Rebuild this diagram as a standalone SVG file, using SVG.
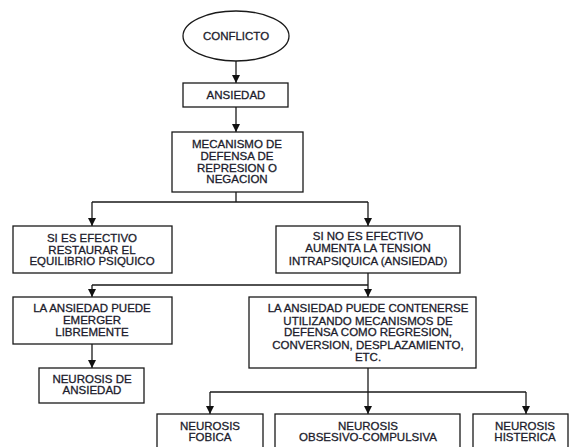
<svg xmlns="http://www.w3.org/2000/svg" width="569" height="447" viewBox="0 0 569 447">
<style>
.box{fill:#fff;stroke:#1a1a1a;stroke-width:1.3}
.t{font-family:"Liberation Sans",Arial,sans-serif;font-size:11.5px;fill:#1c1c2c;stroke:#1c1c2c;stroke-width:0.3;text-anchor:middle}
.c{fill:none;stroke:#1a1a1a;stroke-width:1.3}
</style>
<defs>
<marker id="ah" viewBox="0 0 8 8" refX="8" refY="4" markerWidth="8" markerHeight="8" markerUnits="userSpaceOnUse" orient="auto">
<path d="M0,0 L8,4 L0,8 Z" fill="#111"/>
</marker>
</defs>
<rect width="569" height="447" fill="#fff"/>
<g id="connectors">
<path class="c" d="M236,61 V83" marker-end="url(#ah)"/>
<path class="c" d="M236,107 V132" marker-end="url(#ah)"/>
<path class="c" d="M236,192 V202 M92,202 H368"/>
<path class="c" d="M92,202 V226" marker-end="url(#ah)"/>
<path class="c" d="M368,202 V226" marker-end="url(#ah)"/>
<path class="c" d="M368,273 V285 M92,285 H368"/>
<path class="c" d="M92,285 V297" marker-end="url(#ah)"/>
<path class="c" d="M368,285 V297" marker-end="url(#ah)"/>
<path class="c" d="M92,344 V368" marker-end="url(#ah)"/>
<path class="c" d="M368,368 V414" marker-end="url(#ah)"/>
<path class="c" d="M210,392 H526"/>
<path class="c" d="M210,392 V414" marker-end="url(#ah)"/>
<path class="c" d="M526,392 V414" marker-end="url(#ah)"/>
</g>
<g id="conflicto">
<ellipse class="box" cx="236" cy="36" rx="53" ry="25"/>
<text class="t" x="236" y="40">CONFLICTO</text>
</g>
<g id="ansiedad">
<rect class="box" x="183" y="83" width="105" height="24"/>
<text class="t" x="236" y="99">ANSIEDAD</text>
</g>
<g id="mecanismo">
<rect class="box" x="172" y="132" width="131" height="60"/>
<text class="t" x="237" y="148">MECANISMO DE</text>
<text class="t" x="237" y="160">DEFENSA DE</text>
<text class="t" x="237" y="172">REPRESION O</text>
<text class="t" x="237" y="183">NEGACION</text>
</g>
<g id="efectivo">
<rect class="box" x="13" y="226" width="159" height="47"/>
<text class="t" x="92" y="242">SI ES EFECTIVO</text>
<text class="t" x="92" y="254">RESTAURAR EL</text>
<text class="t" x="92" y="265">EQUILIBRIO PSIQUICO</text>
</g>
<g id="noefectivo">
<rect class="box" x="276" y="226" width="184" height="47"/>
<text class="t" x="368" y="240">SI NO ES EFECTIVO</text>
<text class="t" x="368" y="252">AUMENTA LA TENSION</text>
<text class="t" x="368" y="265">INTRAPSIQUICA (ANSIEDAD)</text>
</g>
<g id="emerger">
<rect class="box" x="13" y="297" width="159" height="47"/>
<text class="t" x="92" y="312">LA ANSIEDAD PUEDE</text>
<text class="t" x="92" y="324">EMERGER</text>
<text class="t" x="92" y="336">LIBREMENTE</text>
</g>
<g id="neurosisansiedad">
<rect class="box" x="39" y="368" width="105" height="35"/>
<text class="t" x="92" y="383">NEUROSIS DE</text>
<text class="t" x="92" y="394">ANSIEDAD</text>
</g>
<g id="contenerse">
<rect class="box" x="249" y="297" width="227" height="71"/>
<text class="t" x="368" y="312">LA ANSIEDAD PUEDE CONTENERSE</text>
<text class="t" x="368" y="325">UTILIZANDO MECANISMOS DE</text>
<text class="t" x="368" y="336">DEFENSA COMO REGRESION,</text>
<text class="t" x="368" y="349">CONVERSION, DESPLAZAMIENTO,</text>
<text class="t" x="368" y="361">ETC.</text>
</g>
<g id="fobica">
<rect class="box" x="157" y="414" width="106" height="50"/>
<text class="t" x="210" y="430">NEUROSIS</text>
<text class="t" x="210" y="441">FOBICA</text>
</g>
<g id="obsesivo">
<rect class="box" x="275" y="414" width="185" height="50"/>
<text class="t" x="368" y="430">NEUROSIS</text>
<text class="t" x="368" y="441">OBSESIVO-COMPULSIVA</text>
</g>
<g id="histerica">
<rect class="box" x="473" y="414" width="95" height="50"/>
<text class="t" x="525" y="430">NEUROSIS</text>
<text class="t" x="525" y="441">HISTERICA</text>
</g>
</svg>
